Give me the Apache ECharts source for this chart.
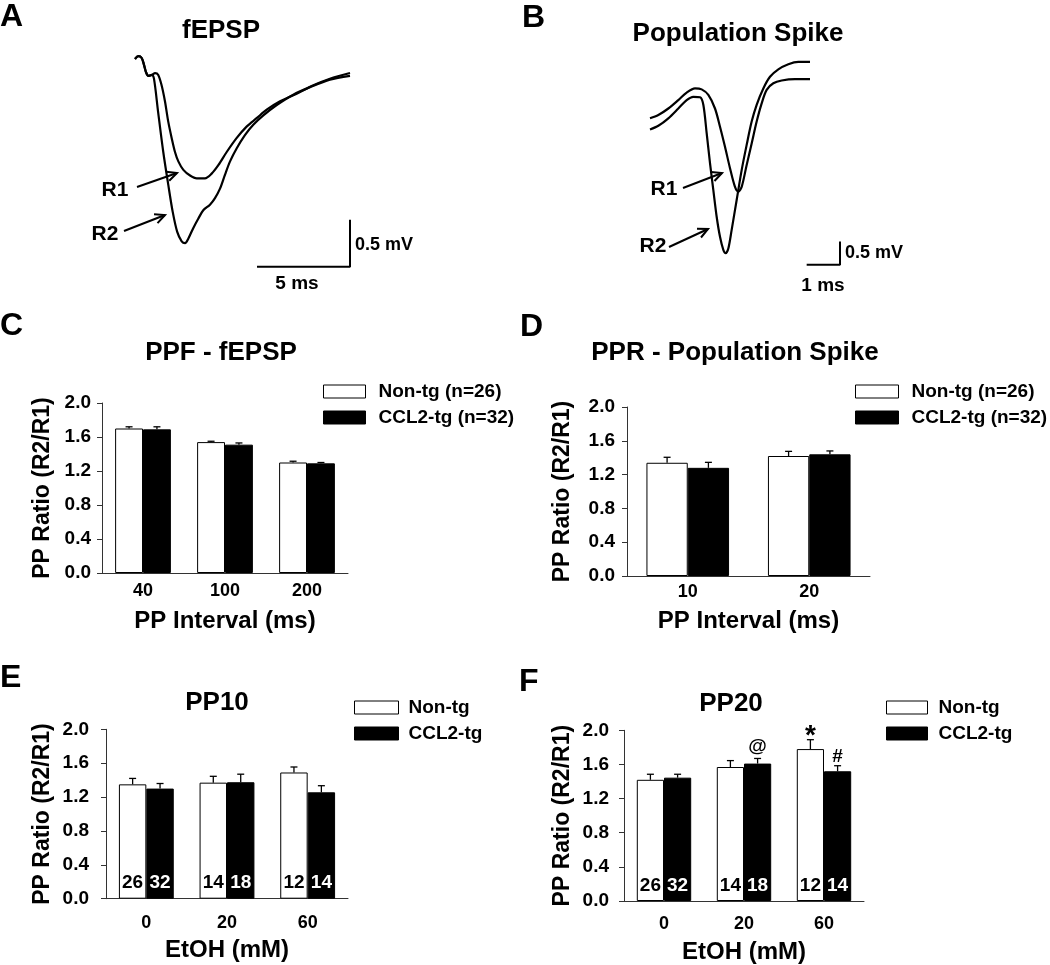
<!DOCTYPE html>
<html><head><meta charset="utf-8">
<script src="https://cdn.jsdelivr.net/npm/echarts@6/dist/echarts.min.js"></script>
<style>html,body{margin:0;padding:0;background:#fff}#chart{width:1050px;height:965px}</style>
</head><body><div id="chart"></div>
<script>
// ---------------- DATA ----------------
// Panel A traces: [time (ms), voltage (mV)]
const traceA_R1 = [[0.00,-0.01],[0.18,0.02],[0.36,0.00],[0.48,-0.07],[0.59,-0.15],[0.72,-0.19],[0.90,-0.18],[1.08,-0.16],[1.25,-0.18],[1.43,-0.29],[1.61,-0.46],[1.79,-0.68],[1.97,-0.85],[2.15,-1.00],[2.33,-1.10],[2.60,-1.19],[2.96,-1.25],[3.32,-1.28],[3.76,-1.28],[4.12,-1.23],[4.48,-1.14],[4.93,-1.00],[5.47,-0.85],[6.00,-0.73],[6.54,-0.64],[7.08,-0.55],[7.80,-0.46],[8.69,-0.38],[9.59,-0.29],[10.48,-0.22],[11.56,-0.16]];
const traceA_R2 = [[0.00,-0.01],[0.18,0.02],[0.36,0.00],[0.48,-0.07],[0.59,-0.15],[0.72,-0.19],[0.90,-0.18],[1.02,-0.22],[1.24,-0.57],[1.52,-1.00],[1.79,-1.35],[2.03,-1.64],[2.27,-1.85],[2.51,-1.95],[2.69,-1.97],[2.87,-1.92],[3.13,-1.81],[3.40,-1.71],[3.67,-1.62],[4.03,-1.56],[4.30,-1.49],[4.57,-1.39],[4.84,-1.24],[5.11,-1.10],[5.47,-0.96],[5.91,-0.82],[6.36,-0.71],[6.90,-0.61],[7.62,-0.50],[8.51,-0.39],[9.41,-0.31],[10.48,-0.23],[11.56,-0.19]];
// Panel B traces
const traceB_R1 = [[0,0],[0.25,0.07],[0.55,0.21],[0.85,0.39],[1.10,0.55],[1.35,0.64],[1.55,0.62],[1.75,0.50],[1.95,0.21],[2.10,-0.18],[2.25,-0.61],[2.40,-1.07],[2.55,-1.47],[2.65,-1.57],[2.75,-1.47],[2.90,-1.00],[3.05,-0.54],[3.20,-0.07],[3.35,0.32],[3.50,0.61],[3.70,0.75],[3.95,0.81],[4.35,0.84],[4.80,0.84]];
const traceB_R2 = [[0,-0.24],[0.25,-0.16],[0.55,0.00],[0.85,0.21],[1.10,0.39],[1.30,0.46],[1.50,0.45],[1.60,0.29],[1.70,-0.32],[1.80,-0.96],[1.90,-1.54],[2.00,-2.11],[2.10,-2.54],[2.20,-2.82],[2.27,-2.89],[2.35,-2.79],[2.45,-2.39],[2.60,-1.75],[2.75,-1.11],[2.90,-0.57],[3.05,-0.07],[3.20,0.29],[3.40,0.64],[3.60,0.89],[3.85,1.05],[4.15,1.16],[4.45,1.21],[4.80,1.21]];
// Scale bars (ms, mV)
const scaleA = {ms:5, mV:0.5};
const scaleB = {ms:1, mV:0.5};

// Panel C
const catC = ['40','100','200'];
const nonC = [1.70,1.54,1.30];
const nonCErr = [0.02,0.01,0.015];
const cclC = [1.69,1.51,1.29];
const cclCErr = [0.03,0.02,0.01];
// Panel D
const catD = ['10','20'];
const nonD = [1.34,1.42];
const nonDErr = [0.065,0.055];
const cclD = [1.28,1.44];
const cclDErr = [0.065,0.04];
// Panel E (PP10)
const catE = ['0','20','60'];
const nonE = [1.35,1.37,1.49];
const nonEErr = [0.07,0.075,0.065];
const cclE = [1.30,1.375,1.256];
const cclEErr = [0.06,0.095,0.078];
const nNonE = [26,14,12];
const nCclE = [32,18,14];
// Panel F (PP20)
const catF = ['0','20','60'];
const nonF = [1.42,1.57,1.78];
const nonFErr = [0.065,0.075,0.11];
const cclF = [1.445,1.61,1.52];
const cclFErr = [0.04,0.06,0.065];
const nNonF = [26,14,12];
const nCclF = [32,18,14];
const annNonF = ['','','*'];
const annCclF = ['','@','#'];

// ---------------- STYLE / LAYOUT ----------------
const FF = '"Liberation Sans", Arial, sans-serif';
const GAP = 0.32;
const AX = '#333';

const chart = echarts.init(document.getElementById('chart'), null, {renderer:'canvas'});

const grids = [
  {left:135, top:48.6, width:223.2, height:225.6},   // A
  {left:650, top:48.3, width:200, height:224},      // B
  {left:102, top:403, width:246, height:170},        // C
  {left:627, top:407, width:243, height:169},        // D
  {left:106, top:729.3, width:242, height:169.4},    // E
  {left:624, top:730.3, width:240, height:170.7}     // F
];

const xAxes = [
  {gridIndex:0, type:'value', min:0, max:12, show:false},
  {gridIndex:1, type:'value', min:0, max:6, show:false}
];
const yAxes = [
  {gridIndex:0, type:'value', min:-2.3, max:0.1, show:false},
  {gridIndex:1, type:'value', min:-3.3, max:1.5, show:false}
];

const panels = [
  {cats:catC, non:nonC, nonErr:nonCErr, ccl:cclC, cclErr:cclCErr, names:['Non-tg (n=26)','CCL2-tg (n=32)'], xName:'PP Interval (ms)', yNameGap:48, xNameGap:36, xLabMargin:9, yLabMargin:11},
  {cats:catD, non:nonD, nonErr:nonDErr, ccl:cclD, cclErr:cclDErr, names:['Non-tg (n=26)','CCL2-tg (n=32)'], xName:'PP Interval (ms)', yNameGap:53, xNameGap:33, xLabMargin:7, yLabMargin:12},
  {cats:catE, non:nonE, nonErr:nonEErr, ccl:cclE, cclErr:cclEErr, names:['Non-tg','CCL2-tg'], xName:'EtOH (mM)', yNameGap:52, xNameGap:40, xLabMargin:15, yLabMargin:17, nNon:nNonE, nCcl:nCclE},
  {cats:catF, non:nonF, nonErr:nonFErr, ccl:cclF, cclErr:cclFErr, names:['Non-tg','CCL2-tg'], xName:'EtOH (mM)', yNameGap:50, xNameGap:39, xLabMargin:14, yLabMargin:15, nNon:nNonF, nCcl:nCclF, annNon:annNonF, annCcl:annCclF}
];

const series = [
  {type:'line', xAxisIndex:0, yAxisIndex:0, data:traceA_R1, showSymbol:false, smooth:0.3, lineStyle:{color:'#000', width:2.2}, silent:true},
  {type:'line', xAxisIndex:0, yAxisIndex:0, data:traceA_R2, showSymbol:false, smooth:0.3, lineStyle:{color:'#000', width:2.2}, silent:true},
  {type:'line', xAxisIndex:1, yAxisIndex:1, data:traceB_R1, showSymbol:false, smooth:0.3, lineStyle:{color:'#000', width:2.2}, silent:true},
  {type:'line', xAxisIndex:1, yAxisIndex:1, data:traceB_R2, showSymbol:false, smooth:0.3, lineStyle:{color:'#000', width:2.2}, silent:true}
];

// scale bars drawn in the traces' own coordinate systems
const sbA = {t:11.56, v:-2.22};
const sbB = {t:5.70, v:-3.14};
series.push({type:'line', xAxisIndex:0, yAxisIndex:0, showSymbol:false, silent:true, lineStyle:{color:'#000', width:2},
  data:[[sbA.t-scaleA.ms, sbA.v],[sbA.t, sbA.v],[sbA.t, sbA.v+scaleA.mV]]});
series.push({type:'line', xAxisIndex:1, yAxisIndex:1, showSymbol:false, silent:true, lineStyle:{color:'#000', width:2},
  data:[[sbB.t-scaleB.ms, sbB.v],[sbB.t, sbB.v],[sbB.t, sbB.v+scaleB.mV]]});

const ANN = {'@':{off:-12, size:19}, '#':{off:-9, size:19}, '*':{off:-3, size:28}};

function errSeries(ai, vals, errs, sign, anns){
  return {type:'custom', xAxisIndex:ai, yAxisIndex:ai, z:5, silent:true,
    data: vals.map((v,i)=>[i, v, errs[i]]),
    renderItem:(params, api)=>{
      const i = api.value(0), v = api.value(1), e = api.value(2);
      const band = api.size([1,0])[0];
      const bw = band*(1-GAP)/2;
      const p0 = api.coord([i, v]);
      const p1 = api.coord([i, v+e]);
      const x = p0[0] + sign*bw/2;
      const ch = [
        {type:'line', shape:{x1:x, y1:p0[1], x2:x, y2:p1[1]}, style:{stroke:'#000', lineWidth:1.3}},
        {type:'line', shape:{x1:x-3.5, y1:p1[1], x2:x+3.5, y2:p1[1]}, style:{stroke:'#000', lineWidth:1.3}}
      ];
      const a = anns && anns[params.dataIndex];
      if (a) ch.push({type:'text', style:{text:a, x:x, y:p1[1]+ANN[a].off, align:'center', verticalAlign:'middle',
        font:'bold '+ANN[a].size+'px '+FF, fill:'#000'}});
      return {type:'group', children:ch};
    }};
}

panels.forEach((p, k)=>{
  const ai = k+2;
  xAxes.push({gridIndex:ai, type:'category', data:p.cats,
    axisLine:{lineStyle:{color:AX, width:1}}, axisTick:{alignWithLabel:true, length:5, lineStyle:{color:AX}},
    axisLabel:{color:'#000', fontFamily:FF, fontWeight:'bold', fontSize:18, margin:p.xLabMargin},
    name:p.xName, nameLocation:'middle', nameGap:p.xNameGap,
    nameTextStyle:{color:'#000', fontFamily:FF, fontWeight:'bold', fontSize:24}});
  yAxes.push({gridIndex:ai, type:'value', min:0, max:2, interval:0.4,
    axisLine:{show:true, lineStyle:{color:AX, width:1}}, axisTick:{show:true, length:5, lineStyle:{color:AX}},
    splitLine:{show:false},
    axisLabel:{color:'#000', fontFamily:FF, fontWeight:'bold', fontSize:19, margin:p.yLabMargin, formatter:v=>v.toFixed(1)},
    name:'PP Ratio (R2/R1)', nameLocation:'middle', nameGap:p.yNameGap,
    nameTextStyle:{color:'#000', fontFamily:FF, fontWeight:'bold', fontSize:23}});
  series.push({type:'bar', name:p.names[0], xAxisIndex:ai, yAxisIndex:ai, data:p.non, barGap:'0%', barCategoryGap:(GAP*100)+'%',
    itemStyle:{color:'#fff', borderColor:'#000', borderWidth:1}, silent:true,
    label: p.nNon ? {show:true, position:'insideBottom', distance:6, color:'#000', fontFamily:FF, fontWeight:'bold', fontSize:19,
      formatter:q=>String(p.nNon[q.dataIndex])} : {show:false}});
  series.push({type:'bar', name:p.names[1], xAxisIndex:ai, yAxisIndex:ai, data:p.ccl, barGap:'0%', barCategoryGap:(GAP*100)+'%',
    itemStyle:{color:'#000', borderColor:'#000', borderWidth:1}, silent:true,
    label: p.nCcl ? {show:true, position:'insideBottom', distance:6, color:'#fff', fontFamily:FF, fontWeight:'bold', fontSize:19,
      formatter:q=>String(p.nCcl[q.dataIndex])} : {show:false}});
  series.push(errSeries(ai, p.non, p.nonErr, -1, p.annNon));
  series.push(errSeries(ai, p.ccl, p.cclErr, 1, p.annCcl));
});

function legend(left, top, w, pad, names){
  return {orient:'vertical', left, top, padding:0, itemGap:6, itemWidth:w, itemHeight:13, icon:'rect', selectedMode:false,
    textStyle:{fontFamily:FF, fontWeight:'bold', fontSize:19, color:'#000', lineHeight:20, padding:[0,0,0,pad]},
    data:[{name:names[0], itemStyle:{color:'#fff', borderColor:'#000', borderWidth:1}},
          {name:names[1], itemStyle:{color:'#000', borderColor:'#000', borderWidth:1}}]};
}
const legends = [
  legend(323, 381.5, 42, 8, panels[0].names),
  legend(855, 381.5, 43, 8, panels[1].names),
  legend(354, 697.5, 44, 5, panels[2].names),
  legend(886, 697.5, 41, 6, panels[3].names)
];

function txt(text, x, y, size, align){
  return {type:'text', silent:true, style:{text, x, y, align:align||'center', verticalAlign:'middle', font:'bold '+size+'px '+FF, fill:'#000'}};
}
function arrow(x1,y1,x2,y2){
  const ang = Math.atan2(y2-y1, x2-x1), L = 11, a = 0.45;
  return {type:'group', silent:true, children:[
    {type:'line', shape:{x1,y1,x2,y2}, style:{stroke:'#000', lineWidth:2}},
    {type:'polyline', shape:{points:[[x2-L*Math.cos(ang-a), y2-L*Math.sin(ang-a)],[x2,y2],[x2-L*Math.cos(ang+a), y2-L*Math.sin(ang+a)]]},
      style:{stroke:'#000', lineWidth:2, fill:null}}
  ]};
}

const graphics = [
  // panel letters
  txt('A', 0, 17, 32, 'left'), txt('B', 522, 18, 32, 'left'), txt('C', 0, 326, 32, 'left'),
  txt('D', 520, 327, 32, 'left'), txt('E', 0, 678, 32, 'left'), txt('F', 519, 682, 32, 'left'),
  // titles
  txt('fEPSP', 221, 31, 26), txt('Population Spike', 738, 34, 26),
  txt('PPF - fEPSP', 221, 353, 26), txt('PPR - Population Spike', 735, 353, 26),
  txt('PP10', 217, 703, 26), txt('PP20', 731, 704, 26),
  // scale bar labels
  txt('0.5 mV', 355, 245, 18, 'left'), txt('5 ms', 297, 284, 19),
  txt('0.5 mV', 845, 253, 18, 'left'), txt('1 ms', 823, 286, 19),
  // R labels and arrows
  txt('R1', 115, 190, 21), txt('R2', 105, 234, 21),
  txt('R1', 664, 189, 21), txt('R2', 653, 246, 21),
  arrow(137,187,177,173), arrow(124,231,165,215),
  arrow(683,188,722,173), arrow(669,247,708,229)
];

chart.setOption({
  animation:false,
  backgroundColor:'#fff',
  textStyle:{fontFamily:FF},
  grid:grids, xAxis:xAxes, yAxis:yAxes, legend:legends, series, graphic:graphics
});
</script></body></html>
